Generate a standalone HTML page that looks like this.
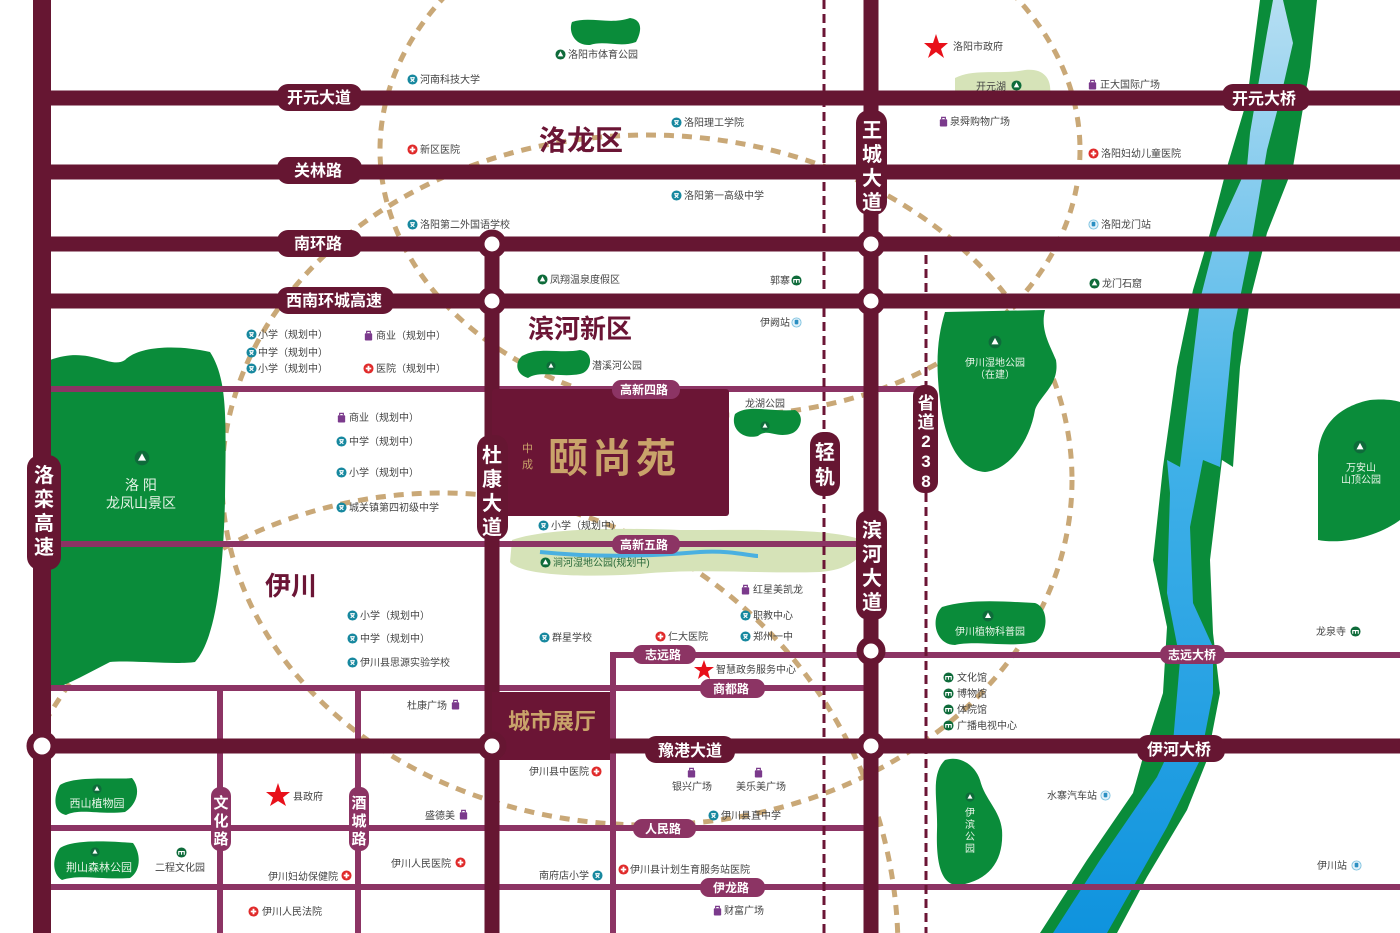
<!DOCTYPE html>
<html><head><meta charset="utf-8"><style>
html,body{margin:0;padding:0;background:#fff;width:1400px;height:933px;overflow:hidden;}
svg{display:block;}
text{font-family:"Liberation Sans","Noto Sans CJK SC",sans-serif;}
.p{font-size:10px;fill:#444;}
.w{fill:#fff;font-weight:bold;}
</style></head><body>
<svg width="1400" height="933" viewBox="0 0 1400 933" xmlns="http://www.w3.org/2000/svg">
<defs>
<linearGradient id="bl" x1="0" y1="0" x2="0" y2="1"><stop offset="0" stop-color="#b5def2"/><stop offset="0.5" stop-color="#3fb0e8"/><stop offset="1" stop-color="#0f93de"/></linearGradient>
<symbol id="sch" viewBox="-6 -6 12 12"><circle r="5.5" fill="#17889f"/><path d="M-2.5 -2 L2.5 -2 M-2 2.5 L2 -1 M2 2.5 L-2 -1" stroke="#fff" stroke-width="1.2"/></symbol>
<symbol id="hos" viewBox="-6 -6 12 12"><circle r="5.5" fill="#e02a2a"/><path d="M-3 0H3M0 -3V3" stroke="#fff" stroke-width="2"/></symbol>
<symbol id="shop" viewBox="-6 -6 12 12"><rect x="-4" y="-2.5" width="8" height="8" rx="1" fill="#7b3a8c"/><path d="M-2 -2.5 V-4.5 H2 V-2.5" fill="none" stroke="#7b3a8c" stroke-width="1.3"/></symbol>
<symbol id="park" viewBox="-6 -6 12 12"><circle r="5.5" fill="#0e6b3a"/><path d="M0 -3.5 L3 2 H-3Z" fill="#fff"/></symbol>
<symbol id="mus" viewBox="-6 -6 12 12"><circle r="5.5" fill="#0e6b3a"/><path d="M-3 2.5V-1H3V2.5M0 -1V2.5" stroke="#fff" stroke-width="1.2" fill="none"/></symbol>
<symbol id="sta" viewBox="-6 -6 12 12"><circle r="5" fill="#e4f2fa" stroke="#7fc3e0"/><rect x="-2" y="-3" width="4" height="5" rx="1" fill="#2b8fc2"/></symbol>
<clipPath id="cl"><rect x="50" y="0" width="1350" height="933"/></clipPath>
</defs>

<!-- dashed rings -->
<g fill="none" stroke="#c9a877" stroke-width="5" stroke-dasharray="10 8" clip-path="url(#cl)">
<ellipse cx="730" cy="150" rx="350" ry="265"/>
<ellipse cx="647" cy="480" rx="425" ry="345"/>
<circle cx="441" cy="950" r="457"/>
</g>

<!-- greens -->
<path d="M50 360 C90 345 110 370 125 360 C140 345 180 345 210 352 C228 380 226 420 225 500 C223 580 215 640 195 662 C175 665 130 660 110 662 C90 672 70 684 50 690Z" fill="#0a8c3a"/>
<path d="M572 22 C590 16 610 25 630 18 C645 20 640 35 636 42 C620 48 605 40 590 45 C575 46 568 32 572 22Z" fill="#0a8c3a"/>
<path d="M522 356 C540 346 560 354 580 350 C595 352 592 372 580 374 C560 378 540 370 528 378 C515 374 515 362 522 356Z" fill="#0a8c3a"/>
<path d="M735 414 C748 404 770 412 795 410 C806 416 800 432 790 434 C775 438 768 428 758 436 C742 440 730 428 735 414Z" fill="#0a8c3a"/>
<path d="M945 312 L1045 310 C1040 330 1050 345 1056 360 C1060 385 1040 395 1035 410 C1030 440 1010 470 985 472 C958 470 945 440 940 400 C935 360 938 335 945 312Z" fill="#0a8c3a"/>
<path d="M1318 540 L1318 455 C1320 420 1345 405 1370 400 C1390 398 1400 402 1400 402 L1400 520 C1380 535 1345 545 1318 540Z" fill="#0a8c3a"/>
<path d="M942 607 C970 598 1010 602 1035 603 C1050 608 1048 635 1035 642 C1010 648 975 640 955 645 C935 645 930 618 942 607Z" fill="#0a8c3a"/>
<path d="M945 760 C960 755 975 765 980 780 C985 800 1000 810 1002 830 C1004 860 990 880 960 885 C940 887 936 860 937 830 C938 800 930 775 945 760Z" fill="#0a8c3a"/>
<path d="M60 785 C75 775 120 780 132 778 C142 790 136 805 125 812 C100 815 80 808 66 815 C52 812 54 795 60 785Z" fill="#0a8c3a"/>
<path d="M60 848 C75 838 120 842 133 843 C142 855 140 872 130 878 C100 880 80 874 62 880 C52 874 52 858 60 848Z" fill="#0a8c3a"/>
<path d="M955 78 C975 68 1000 75 1025 70 C1045 68 1052 80 1050 95 L955 95Z" fill="#d6e3b8"/>
<path d="M512 540 C540 530 600 527 680 530 C760 530 830 528 862 540 C868 555 850 570 820 572 C760 574 700 568 640 574 C580 578 520 575 510 562Z" fill="#d6e3b8"/>
<path d="M540 552 C600 558 650 556 700 552 C730 550 750 556 758 556" stroke="#4ab0e0" stroke-width="4" fill="none"/>

<!-- river -->
<path d="M1260 0 L1317 0 L1310 67 L1293 167 L1267 233 L1250 300 L1240 367 L1233 467 L1222 460 L1210 560 L1213 633 L1220 693 L1207 760 L1187 810 L1147 877 L1117 933 L1040 933 L1087 860 L1133 793 L1147 743 L1163 693 L1167 627 L1153 560 L1163 467 L1177 367 L1193 290 L1210 233 L1227 167 L1247 100Z" fill="#0a8c3a"/>
<path d="M1273 0 L1283 0 L1293 43 L1280 100 L1267 150 L1253 233 L1233 333 L1220 467 L1203 460 L1190 527 L1193 603 L1213 647 L1213 693 L1200 760 L1167 827 L1107 933 L1053 933 L1100 860 L1157 777 L1173 743 L1180 660 L1167 593 L1170 493 L1167 460 L1180 467 L1200 300 L1217 233 L1247 167 L1250 133 L1267 33Z" fill="url(#bl)"/>

<!-- thin roads -->
<g stroke="#8c3464" stroke-width="6" fill="none">
<path d="M42 389H926"/><path d="M42 544H871"/><path d="M610 655H1400"/><path d="M613 655V933"/>
<path d="M42 688H871"/><path d="M42 828H871"/><path d="M42 887H1400"/>
<path d="M220 688V933"/><path d="M358 688V933"/>
</g>
<g stroke="#6b1535" stroke-width="3" stroke-dasharray="9 5" fill="none"><path d="M824 0V933"/><path d="M926 255V933"/></g>
<g stroke="#661632" stroke-width="15" fill="none">
<path d="M42 98H1400"/><path d="M42 172H1400"/><path d="M42 244H1400"/><path d="M42 301H1400"/><path d="M42 746H1400"/>
<path d="M492 244V933"/><path d="M871 0V933"/>
</g>
<path d="M42 0V933" stroke="#661632" stroke-width="18"/>

<rect x="492" y="389" width="237" height="127" rx="3" fill="#6b1535"/>
<rect x="492" y="692" width="118" height="68" fill="#6b1535"/>
<text x="548" y="472" font-size="40" font-weight="bold" fill="#c9a36a" letter-spacing="4" font-family="'Noto Serif CJK SC',serif">颐尚苑</text>
<text x="522" y="452" font-size="11" fill="#c9a36a">中</text><text x="522" y="468" font-size="11" fill="#c9a36a">成</text>
<text x="508" y="729" font-size="22" font-weight="bold" fill="#c9a36a">城市展厅</text>

<g fill="#fff" stroke="#661632" stroke-width="7">
<circle cx="492" cy="244" r="11"/><circle cx="492" cy="301" r="11"/><circle cx="871" cy="244" r="11"/><circle cx="871" cy="301" r="11"/><circle cx="871" cy="651" r="11"/><circle cx="42" cy="746" r="12"/><circle cx="492" cy="746" r="11"/><circle cx="871" cy="746" r="11"/>
</g>

<g fill="#661632">
<rect x="277" y="84" width="85" height="27" rx="11"/><rect x="277" y="157" width="85" height="27" rx="11"/><rect x="277" y="230" width="85" height="27" rx="11"/><rect x="277" y="287" width="117" height="27" rx="11"/>
<rect x="645" y="736" width="90" height="27" rx="11"/><rect x="1222" y="84" width="88" height="27" rx="11"/><rect x="1137" y="735" width="88" height="27" rx="11"/>
<rect x="27" y="455" width="34" height="115" rx="13"/><rect x="477" y="435" width="31" height="105" rx="13"/><rect x="856" y="110" width="31" height="105" rx="13"/><rect x="856" y="510" width="31" height="110" rx="13"/>
<rect x="810" y="432" width="30" height="64" rx="13"/><rect x="913" y="385" width="25" height="108" rx="11"/>
</g>
<g class="w" font-size="16">
<text x="287" y="103">开元大道</text><text x="294" y="176">关林路</text><text x="294" y="249">南环路</text><text x="286" y="306">西南环城高速</text>
<text x="658" y="756" font-size="16">豫港大道</text><text x="1232" y="104">开元大桥</text><text x="1147" y="755">伊河大桥</text>
</g>
<g class="w" font-size="20" text-anchor="middle">
<text x="44" y="482">洛</text><text x="44" y="506">栾</text><text x="44" y="530">高</text><text x="44" y="554">速</text>
<text x="492" y="462">杜</text><text x="492" y="486">康</text><text x="492" y="510">大</text><text x="492" y="534">道</text>
<text x="872" y="137">王</text><text x="872" y="161">城</text><text x="872" y="185">大</text><text x="872" y="209">道</text>
<text x="872" y="537">滨</text><text x="872" y="561">河</text><text x="872" y="585">大</text><text x="872" y="609">道</text>
<text x="825" y="459">轻</text><text x="825" y="484">轨</text>
</g>
<g class="w" font-size="17" text-anchor="middle">
<text x="926" y="409">省</text><text x="926" y="428">道</text><text x="926" y="447">2</text><text x="926" y="467">3</text><text x="926" y="487">8</text>
</g>
<g fill="#8c3464">
<rect x="612" y="380" width="68" height="19" rx="9"/><rect x="612" y="535" width="68" height="19" rx="9"/><rect x="633" y="645" width="63" height="19" rx="9"/><rect x="700" y="679" width="65" height="19" rx="9"/><rect x="633" y="819" width="63" height="19" rx="9"/><rect x="700" y="878" width="65" height="19" rx="9"/>
<rect x="1160" y="645" width="65" height="19" rx="9"/>
<rect x="211" y="787" width="20" height="64" rx="9"/><rect x="349" y="787" width="20" height="64" rx="9"/>
</g>
<g class="w" font-size="12" font-weight="normal">
<text x="620" y="394">高新四路</text><text x="620" y="549">高新五路</text><text x="645" y="659">志远路</text><text x="713" y="693">商都路</text><text x="645" y="833">人民路</text><text x="713" y="892">伊龙路</text><text x="1168" y="659">志远大桥</text>
</g>
<g class="w" font-size="15" text-anchor="middle">
<text x="221" y="808">文</text><text x="221" y="826">化</text><text x="221" y="844">路</text>
<text x="359" y="808">酒</text><text x="359" y="826">城</text><text x="359" y="844">路</text>
</g>

<text x="539" y="150" font-size="28" font-weight="bold" fill="#6b1535">洛龙区</text>
<text x="528" y="338" font-size="26" font-weight="bold" fill="#6b1535">滨河新区</text>
<text x="265" y="595" font-size="26" font-weight="bold" fill="#6b1535">伊川</text>

<g fill="#e8f5e8" font-size="14" text-anchor="middle">
<text x="141" y="490">洛 阳</text><text x="141" y="508">龙凤山景区</text>
</g>
<g fill="#e8f5e8" font-size="10" text-anchor="middle">
<text x="995" y="366">伊川湿地公园</text><text x="995" y="378">（在建）</text>
<text x="1361" y="471">万安山</text><text x="1361" y="483">山顶公园</text>
<text x="990" y="635">伊川植物科普园</text>
<text x="97" y="807" font-size="11">西山植物园</text><text x="99" y="871" font-size="11">荆山森林公园</text>
<text x="970" y="816">伊</text><text x="970" y="828">滨</text><text x="970" y="840">公</text><text x="970" y="852">园</text>
</g>
<g>
<use href="#park" x="134" y="450" width="16" height="16"/>
<use href="#park" x="988" y="335" width="14" height="14"/>
<use href="#park" x="1353" y="440" width="14" height="14"/>
<use href="#park" x="982" y="610" width="12" height="12"/>
<use href="#park" x="965" y="792" width="10" height="10"/>
<use href="#park" x="92" y="784" width="10" height="10"/>
<use href="#park" x="90" y="847" width="10" height="10"/>
<use href="#park" x="546" y="361" width="10" height="10"/>
<use href="#park" x="760" y="421" width="10" height="10"/>
</g>

<g fill="#e8101a">
<path d="M936 34 L939 43 L948 43 L941 49 L944 58 L936 52 L928 58 L931 49 L924 43 L933 43Z"/>
<path d="M704 660 L706.5 667 L714 667 L708 671.5 L710 679 L704 674.5 L698 679 L700 671.5 L694 667 L701.5 667Z"/>
<path d="M278 783 L281 792 L290 792 L283 797.5 L286 806 L278 801 L270 806 L273 797.5 L266 792 L275 792Z"/>
</g>

<g class="p">
<use href="#park" x="555" y="49" width="11" height="11"/><text x="568" y="58">洛阳市体育公园</text>
<use href="#sch" x="407" y="74" width="11" height="11"/><text x="420" y="83">河南科技大学</text>
<text x="953" y="50">洛阳市政府</text>
<text x="976" y="90">开元湖</text><use href="#park" x="1011" y="80" width="11" height="11"/>
<use href="#shop" x="1087" y="79" width="11" height="11"/><text x="1100" y="88">正大国际广场</text>
<use href="#sch" x="671" y="117" width="11" height="11"/><text x="684" y="126">洛阳理工学院</text>
<use href="#shop" x="938" y="116" width="11" height="11"/><text x="950" y="125">泉舜购物广场</text>
<use href="#hos" x="407" y="144" width="11" height="11"/><text x="420" y="153">新区医院</text>
<use href="#hos" x="1088" y="148" width="11" height="11"/><text x="1101" y="157">洛阳妇幼儿童医院</text>
<use href="#sch" x="671" y="190" width="11" height="11"/><text x="684" y="199">洛阳第一高级中学</text>
<use href="#sch" x="407" y="219" width="11" height="11"/><text x="420" y="228">洛阳第二外国语学校</text>
<use href="#sta" x="1088" y="219" width="11" height="11"/><text x="1101" y="228">洛阳龙门站</text>
<use href="#park" x="537" y="274" width="11" height="11"/><text x="550" y="283">凤翔温泉度假区</text>
<text x="770" y="284">郭寨</text><use href="#mus" x="791" y="275" width="11" height="11"/>
<use href="#park" x="1089" y="278" width="11" height="11"/><text x="1102" y="287">龙门石窟</text>
<text x="760" y="326">伊阙站</text><use href="#sta" x="791" y="317" width="11" height="11"/>
<use href="#sch" x="246" y="329" width="11" height="11"/><text x="258" y="338">小学（规划中）</text>
<use href="#sch" x="246" y="347" width="11" height="11"/><text x="258" y="356">中学（规划中）</text>
<use href="#sch" x="246" y="363" width="11" height="11"/><text x="258" y="372">小学（规划中）</text>
<use href="#shop" x="363" y="330" width="11" height="11"/><text x="376" y="339">商业（规划中）</text>
<use href="#hos" x="363" y="363" width="11" height="11"/><text x="376" y="372">医院（规划中）</text>
<text x="592" y="369">潜溪河公园</text>
<text x="745" y="407">龙湖公园</text>
<use href="#shop" x="336" y="412" width="11" height="11"/><text x="349" y="421">商业（规划中）</text>
<use href="#sch" x="336" y="436" width="11" height="11"/><text x="349" y="445">中学（规划中）</text>
<use href="#sch" x="336" y="467" width="11" height="11"/><text x="349" y="476">小学（规划中）</text>
<use href="#sch" x="336" y="502" width="11" height="11"/><text x="349" y="511">城关镇第四初级中学</text>
<use href="#sch" x="538" y="520" width="11" height="11"/><text x="551" y="529">小学（规划中）</text>
<use href="#park" x="540" y="557" width="11" height="11"/><text x="553" y="566" fill="#2a6a3a">涧河湿地公园(规划中)</text>
<use href="#shop" x="740" y="584" width="11" height="11"/><text x="753" y="593">红星美凯龙</text>
<use href="#sch" x="740" y="610" width="11" height="11"/><text x="753" y="619">职教中心</text>
<use href="#sch" x="740" y="631" width="11" height="11"/><text x="753" y="640">郑州一中</text>
<use href="#hos" x="655" y="631" width="11" height="11"/><text x="668" y="640">仁大医院</text>
<use href="#sch" x="539" y="632" width="11" height="11"/><text x="552" y="641">群星学校</text>
<use href="#sch" x="347" y="610" width="11" height="11"/><text x="360" y="619">小学（规划中）</text>
<use href="#sch" x="347" y="633" width="11" height="11"/><text x="360" y="642">中学（规划中）</text>
<use href="#sch" x="347" y="657" width="11" height="11"/><text x="360" y="666">伊川县思源实验学校</text>
<text x="1316" y="635">龙泉寺</text><use href="#mus" x="1350" y="626" width="11" height="11"/>
<text x="716" y="673">智慧政务服务中心</text>
<use href="#mus" x="943" y="672" width="11" height="11"/><text x="957" y="681">文化馆</text>
<use href="#mus" x="943" y="688" width="11" height="11"/><text x="957" y="697">博物馆</text>
<use href="#mus" x="943" y="704" width="11" height="11"/><text x="957" y="713">体院馆</text>
<use href="#mus" x="943" y="720" width="11" height="11"/><text x="957" y="729">广播电视中心</text>
<text x="407" y="709">杜康广场</text><use href="#shop" x="450" y="699" width="11" height="11"/>
<text x="529" y="775">伊川县中医院</text><use href="#hos" x="591" y="766" width="11" height="11"/>
<use href="#shop" x="686" y="767" width="11" height="11"/><text x="672" y="790">银兴广场</text>
<use href="#shop" x="753" y="767" width="11" height="11"/><text x="736" y="790">美乐美广场</text>
<text x="293" y="800">县政府</text>
<text x="1047" y="799">水寨汽车站</text><use href="#sta" x="1100" y="790" width="11" height="11"/>
<text x="425" y="819">盛德美</text><use href="#shop" x="458" y="809" width="11" height="11"/>
<use href="#sch" x="708" y="810" width="11" height="11"/><text x="721" y="819">伊川县直中学</text>
<use href="#mus" x="176" y="847" width="11" height="11"/><text x="155" y="871">二程文化园</text>
<text x="268" y="880">伊川妇幼保健院</text><use href="#hos" x="341" y="870" width="11" height="11"/>
<text x="391" y="867">伊川人民医院</text><use href="#hos" x="455" y="857" width="11" height="11"/>
<text x="539" y="879">南府店小学</text><use href="#sch" x="592" y="870" width="11" height="11"/>
<use href="#hos" x="618" y="864" width="11" height="11"/><text x="630" y="873">伊川县计划生育服务站医院</text>
<text x="1317" y="869">伊川站</text><use href="#sta" x="1351" y="860" width="11" height="11"/>
<use href="#hos" x="248" y="906" width="11" height="11"/><text x="262" y="915">伊川人民法院</text>
<use href="#shop" x="712" y="905" width="11" height="11"/><text x="724" y="914">财富广场</text>
</g>
</svg>
</body></html>
